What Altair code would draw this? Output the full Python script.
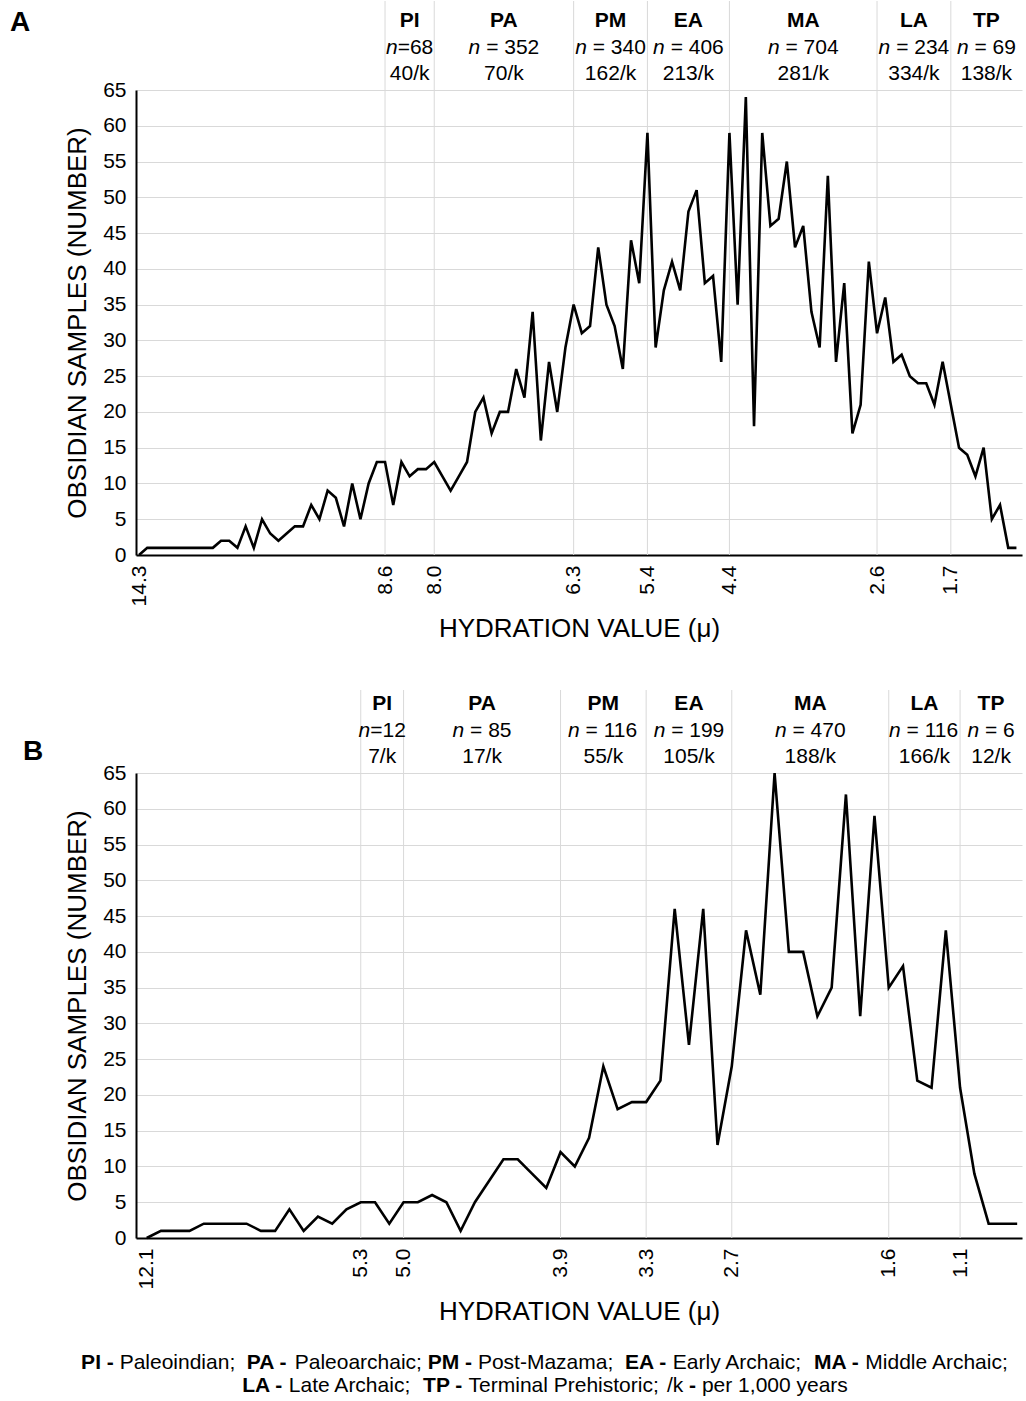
import altair as alt
import pandas as pd

FONT = "Liberation Sans"

# ---------------- data ----------------
a_counts = [0, 1, 1, 1, 1, 1, 1, 1, 1, 1,
            2, 2, 1, 4, 1, 5, 3, 2, 3, 4,
            4, 7, 5, 9, 8, 4, 10, 5, 10, 13,
            13, 7, 13, 11, 12, 12, 13, 11, 9, 11,
            13, 20, 22, 17, 20, 20, 26, 22, 34, 16,
            27, 20, 29, 35, 31, 32, 43, 35, 32, 26,
            44, 38, 59, 29, 37, 41, 37, 48, 51, 38,
            39, 27, 59, 35, 64, 18, 59, 46, 47, 55,
            43, 46, 34, 29, 53, 27, 38, 17, 21, 41,
            31, 36, 27, 28, 25, 24, 24, 21, 27, 21,
            15, 14, 11, 15, 5, 7, 1, 1]
a_tick_idx = [0, 30, 36, 53, 62, 72, 90, 99]
a_tick_lab = ["14.3", "8.6", "8.0", "6.3", "5.4", "4.4", "2.6", "1.7"]

b_counts = [0, 1, 1, 1, 2, 2, 2, 2, 1, 1,
            4, 1, 3, 2, 4, 5, 5, 2, 5, 5,
            6, 5, 1, 5, 8, 11, 11, 9, 7, 12,
            10, 14, 24, 18, 19, 19, 22, 46, 27, 46,
            13, 24, 43, 34, 65, 40, 40, 31, 35, 62,
            31, 59, 35, 38, 22, 21, 43, 21, 9, 2,
            2, 2]
b_tick_idx = [0, 15, 18, 29, 35, 41, 52, 57]
b_tick_lab = ["12.1", "5.3", "5.0", "3.9", "3.3", "2.7", "1.6", "1.1"]

periods = ["PI", "PA", "PM", "EA", "MA", "LA", "TP"]
a_n = ["68", "352", "340", "406", "704", "234", "69"]
a_rate = ["40/k", "70/k", "162/k", "213/k", "281/k", "334/k", "138/k"]
b_n = ["12", "85", "116", "199", "470", "116", "6"]
b_rate = ["7/k", "17/k", "55/k", "105/k", "188/k", "166/k", "12/k"]

foot_line1 = [("PI - ", True), ("Paleoindian;  ", False), ("PA - ", True), ("Paleoarchaic; ", False),
              ("PM - ", True), ("Post-Mazama;  ", False), ("EA - ", True), ("Early Archaic;  ", False),
              ("MA - ", True), ("Middle Archaic;", False)]
foot_line2 = [("LA - ", True), ("Late Archaic;  ", False), ("TP - ", True), ("Terminal Prehistoric; ", False),
              ("/k", False), (" - ", True), ("per 1,000 years", False)]

# ---------------- layout ----------------
W, H = 886, 465
FS = 21

NORMAL_W = {' ': 278, '(': 333, ')': 333, ',': 278, '-': 333, '.': 278, '/': 278, ';': 278, '=': 584,
            'A': 667, 'B': 667, 'C': 722, 'D': 722, 'E': 667, 'F': 611, 'G': 778, 'H': 722, 'I': 278,
            'J': 500, 'K': 667, 'L': 556, 'M': 833, 'N': 722, 'O': 778, 'P': 667, 'R': 722, 'S': 667,
            'T': 611, 'U': 722, 'V': 667, 'W': 944, 'Y': 667,
            'a': 556, 'b': 556, 'c': 500, 'd': 556, 'e': 556, 'f': 278, 'g': 556, 'h': 556, 'i': 222,
            'j': 222, 'k': 500, 'l': 222, 'm': 833, 'n': 556, 'o': 556, 'p': 556, 'q': 556, 'r': 333,
            's': 500, 't': 278, 'u': 556, 'v': 500, 'w': 722, 'x': 500, 'y': 500, 'z': 500}
for d in "0123456789":
    NORMAL_W[d] = 556
BOLD_W = dict(NORMAL_W)
BOLD_W.update({'A': 722, 'E': 667, 'I': 278, 'L': 611, 'M': 833, 'P': 667, 'T': 611, 'k': 556})


def tw(s, size=FS, bold=False):
    t = BOLD_W if bold else NORMAL_W
    return sum(t.get(ch, 556) for ch in s) * size / 1000.0


def panel(counts, tick_idx, tick_lab, n_vals, rates, dmin, step, rule_top, letter, letter_xy,
          footnote=False):
    dmax = dmin + W / step
    expr = "[" + ",".join("'%s'" % l for l in tick_lab) + "][indexof([" + \
        ",".join(str(v) for v in tick_idx) + "], datum.value)]"

    def xenc(field):
        return alt.X(f"{field}:Q",
                     scale=alt.Scale(domain=[dmin, dmax], nice=False, zero=False),
                     axis=alt.Axis(values=tick_idx, labelExpr=expr, labelAngle=270, grid=False,
                                   ticks=False, tickSize=0, domainColor="black", domainWidth=2,
                                   labelFont=FONT, labelFontSize=FS, labelColor="black",
                                   labelPadding=10, labelOverlap=False, labelFlush=False,
                                   title="HYDRATION VALUE (μ)", titleFont=FONT, titleFontSize=26,
                                   titleFontWeight="normal", titleColor="black", titlePadding=10))

    line_df = pd.DataFrame({"i": list(range(len(counts))), "cnt": counts})
    line = alt.Chart(line_df).mark_line(color="black", strokeWidth=2.6).encode(
        x=xenc("i"),
        y=alt.Y("cnt:Q", scale=alt.Scale(domain=[0, 65], nice=False, zero=True),
                axis=alt.Axis(values=list(range(0, 66, 5)), grid=True, gridColor="#d9d9d9",
                              gridWidth=1, ticks=False, tickSize=0, domainColor="black",
                              domainWidth=2, labelFont=FONT, labelFontSize=FS, labelColor="black",
                              labelPadding=10, title="OBSIDIAN SAMPLES (NUMBER)", titleFont=FONT,
                              titleFontSize=26, titleFontWeight="normal", titleColor="black",
                              titlePadding=12)))

    rule_df = pd.DataFrame({"i": tick_idx[1:]})
    rules = alt.Chart(rule_df).mark_rule(color="#d9d9d9", strokeWidth=1).encode(
        x=xenc("i"), y=alt.value(rule_top), y2=alt.value(H))

    bounds = tick_idx[1:] + [dmax]
    centers = [(bounds[k] + bounds[k + 1]) / 2 for k in range(len(periods))]
    nxs, rxs, rests = [], [], []
    for k, nv in enumerate(n_vals):
        rest = ("=" if k == 0 else " = ") + nv
        total = tw("n" + rest)
        start = -total / 2
        nxs.append(centers[k] + start / step)
        lead = len(rest) - len(rest.lstrip())
        rxs.append(centers[k] + (start + tw("n") + tw(rest[:lead])) / step)
        rests.append(rest.strip())
    hdr = pd.DataFrame({"c": centers, "abbr": periods, "rate": rates, "nx": nxs, "rx": rxs,
                        "rest": rests, "nn": ["n"] * len(periods)})
    base_txt = dict(font=FONT, fontSize=FS, color="black", baseline="middle")
    t_abbr = alt.Chart(hdr).mark_text(fontWeight="bold", align="center", **base_txt).encode(
        x=xenc("c"), y=alt.value(-69.5), text="abbr:N")
    t_n = alt.Chart(hdr).mark_text(fontStyle="italic", align="left", **base_txt).encode(
        x=xenc("nx"), y=alt.value(-42.5), text="nn:N")
    t_rest = alt.Chart(hdr).mark_text(align="left", **base_txt).encode(
        x=xenc("rx"), y=alt.value(-42.5), text="rest:N")
    t_rate = alt.Chart(hdr).mark_text(align="center", **base_txt).encode(
        x=xenc("c"), y=alt.value(-16.5), text="rate:N")

    lab = alt.Chart(pd.DataFrame({"t": [letter]})).mark_text(
        font=FONT, fontSize=28, fontWeight="bold", color="black", align="left",
        baseline="middle").encode(x=alt.value(letter_xy[0]), y=alt.value(letter_xy[1]), text="t:N")

    layers = [rules, line, t_abbr, t_n, t_rest, t_rate, lab]

    if footnote:
        center_px = 409
        for segs, ypx in [(foot_line1, 590), (foot_line2, 613)]:
            total = sum(tw(s, FS, b) for s, b in segs)
            cur = center_px - total / 2
            rb, rn = [], []
            for s, b in segs:
                lead = len(s) - len(s.lstrip())
                x0 = cur + tw(s[:lead], FS, b)
                (rb if b else rn).append({"x": dmin + x0 / step, "t": s.strip()})
                cur += tw(s, FS, b)
            for rows, bold in [(rb, True), (rn, False)]:
                layers.append(alt.Chart(pd.DataFrame(rows)).mark_text(
                    fontWeight="bold" if bold else "normal", align="left", **base_txt).encode(
                    x=xenc("x"), y=alt.value(ypx), text="t:N"))

    return alt.layer(*layers).properties(width=W, height=H)


panel_a = panel(a_counts, a_tick_idx, a_tick_lab, a_n, a_rate, -0.37, 8.2, -89, "A", (-126, -67))
panel_b = panel(b_counts, b_tick_idx, b_tick_lab, b_n, b_rate, -0.75, 14.27, -83, "B", (-113, -21),
                footnote=True)

chart = alt.vconcat(panel_a, panel_b, spacing=47).properties(
    padding={"left": 10, "top": 0, "right": 0, "bottom": 0}
).configure(font=FONT, view=alt.ViewConfig(stroke=None))

chart.save("out.html", embed_options={"renderer": "svg", "actions": False})
